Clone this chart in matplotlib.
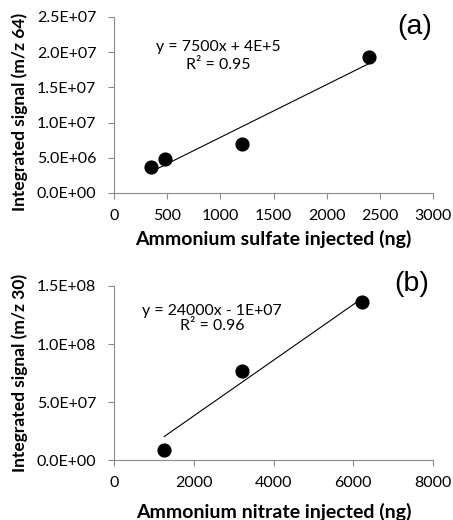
# Calibration plots: ammonium sulfate (a) and ammonium nitrate (b)
import matplotlib
matplotlib.use("Agg")
import matplotlib.pyplot as plt
from matplotlib.ticker import FuncFormatter, MultipleLocator
import numpy as np

plt.rcParams['font.family'] = ['Lato', 'DejaVu Sans']

# Data
sulfateNg = [350, 480, 1200, 2400]
sulfateSignal = [3.7e6, 4.9e6, 6.9e6, 1.93e7]
sulfateFit = (7500, 4e5)
sulfateEq = ["y = 7500x + 4E+5", "R² = 0.95"]

nitrateNg = [1260, 3220, 6230]
nitrateSignal = [8.5e6, 7.7e7, 1.36e8]
nitrateFit = (24000, -1e7)
nitrateEq = ["y = 24000x - 1E+07", "R² = 0.96"]

axisGray = "#8c8c8c"
sciFormat = FuncFormatter(lambda v, pos: "%.1E" % v)

W, H = 453, 520
fig = plt.figure(figsize=(W / 100, H / 100), dpi=100)
axA = fig.add_axes([114 / W, 1 - 193 / H, 319 / W, 176 / H])
axB = fig.add_axes([114 / W, 1 - 460 / H, 319 / W, 174 / H])

# (axis, x, y, fit, equation, tag, xlabel, ylabel, xlim, xstep, ylim, ystep,
#  equation line pixel positions, tag pixel position, xlabel baseline y, ylabel centre y)
panels = [
    (axA, sulfateNg, sulfateSignal, sulfateFit, sulfateEq, "(a)",
     "Ammonium sulfate injected (ng)", "Integrated signal (m/z 64)",
     (0, 3000), 500, (0, 2.5e7), 5e6, [(218, 47), (218, 65)], (415, 27), 245, 112),
    (axB, nitrateNg, nitrateSignal, nitrateFit, nitrateEq, "(b)",
     "Ammonium nitrate injected (ng)", "Integrated signal (m/z 30)",
     (0, 8000), 2000, (0, 1.5e8), 5e7, [(212, 311), (212, 326)], (412, 284), 518, 373),
]

for (ax, x, y, fit, eq, tag, xlab, ylab, xlim, xstep, ylim, ystep,
     eqPix, tagPix, xlabY, ylabY) in panels:
    # trendline over the data range
    xs = np.array([min(x), max(x)])
    ax.plot(xs, fit[0] * xs + fit[1], color="black", lw=0.8, zorder=2)
    ax.plot(x, y, "o", color="black", markersize=9.2, zorder=3)

    ax.set_xlim(*xlim)
    ax.set_ylim(*ylim)
    ax.xaxis.set_major_locator(MultipleLocator(xstep))
    ax.yaxis.set_major_locator(MultipleLocator(ystep))
    ax.yaxis.set_major_formatter(sciFormat)

    for side in ["top", "right"]:
        ax.spines[side].set_visible(False)
    for side in ["left", "bottom"]:
        ax.spines[side].set_color(axisGray)
        ax.spines[side].set_linewidth(0.8)
    ax.tick_params(direction="out", length=4.3, width=0.8, color=axisGray,
                   labelsize=11.5)
    ax.tick_params(axis="x", pad=7)
    ax.tick_params(axis="y", pad=8.5)

    # axis titles placed at the reference pixel positions
    fig.text(0.5 * (114 + 433) / W, 1 - xlabY / H, xlab, ha="center",
             va="baseline", fontsize=14, fontweight="bold")
    fig.text(20 / W, 1 - ylabY / H, ylab, ha="center", va="center",
             rotation=90, fontsize=12.5, fontweight="bold")

    for line, (px, py) in zip(eq, eqPix):
        fig.text(px / W, 1 - py / H, line, ha="center", va="center", fontsize=11.4)
    fig.text(tagPix[0] / W, 1 - tagPix[1] / H, tag, ha="center", va="center",
             fontsize=20.5, family=["Liberation Sans", "DejaVu Sans"])

fig.savefig("out.png", dpi=100)
